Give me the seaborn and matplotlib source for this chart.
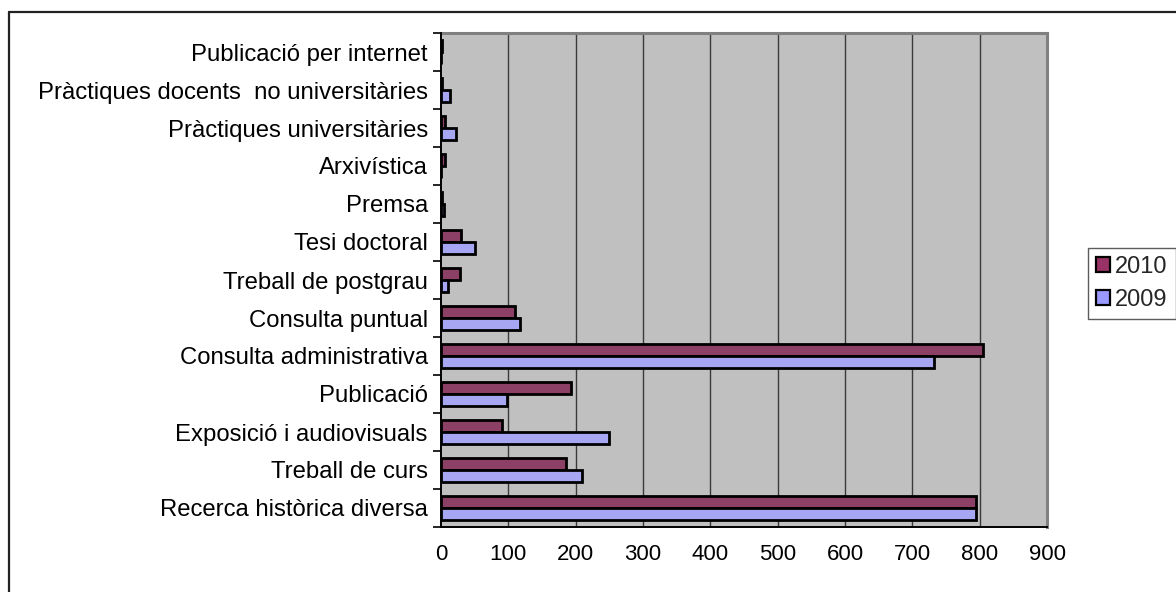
import matplotlib
matplotlib.use("Agg")
import matplotlib.pyplot as plt
from matplotlib.lines import Line2D
from matplotlib.patches import Patch
import seaborn as sns
import pandas as pd
import numpy as np

categories = [
    "Publicació per internet",
    "Pràctiques docents  no universitàries",
    "Pràctiques universitàries",
    "Arxivística",
    "Premsa",
    "Tesi doctoral",
    "Treball de postgrau",
    "Consulta puntual",
    "Consulta administrativa",
    "Publicació",
    "Exposició i audiovisuals",
    "Treball de curs",
    "Recerca històrica diversa",
]
values_2010 = [2, 1, 6, 6, 1, 30, 28, 110, 805, 193, 91, 186, 795]
values_2009 = [0, 14, 23, 0, 4, 50, 10, 118, 732, 98, 250, 210, 795]
years = ["2010", "2009"]
colors = {"2010": "#993366", "2009": "#9999FF"}
x_ticks = list(range(0, 1000, 100))

df = pd.DataFrame({
    "categoria": categories * 2,
    "any": ["2010"] * len(categories) + ["2009"] * len(categories),
    "valor": values_2010 + values_2009,
})

sns.set_theme(style="white")
plt.rcParams["font.family"] = ["Liberation Sans", "DejaVu Sans"]

W, H = 1176, 592
fig = plt.figure(figsize=(W / 100, H / 100), dpi=100)
fig.patch.set_facecolor("white")
ax = fig.add_axes([441 / W, 1 - 527 / H, (1047 - 441) / W, (527 - 33) / H])
ax.set_facecolor("#C0C0C0")

sns.barplot(data=df, x="valor", y="categoria", hue="any", order=categories,
            hue_order=years, palette=colors, orient="h", width=0.62,
            edgecolor="black", linewidth=2.0, errorbar=None, ax=ax,
            legend=False, zorder=3)

ax.set_xlim(0, 900)
ax.set_ylim(len(categories) - 0.5, -0.5)
ax.set_xticks(x_ticks)
ax.set_xticklabels([str(t) for t in x_ticks], fontsize=16)
ax.set_yticks(range(len(categories)))
ax.set_yticklabels(categories, fontsize=17.2)
ax.set_yticks(np.arange(-0.5, len(categories), 1.0), minor=True)
ax.tick_params(axis="y", which="major", length=0, pad=9.5, colors="black")
ax.tick_params(axis="y", which="minor", length=6, width=1.2, color="black", direction="out", left=True)
ax.tick_params(axis="x", which="major", length=6, width=1.2, color="black", direction="inout", pad=9, colors="black")
ax.set_xlabel("")
ax.set_ylabel("")

for t in x_ticks[1:-1]:
    ax.axvline(t, color="#3a3a3a", lw=1.0, zorder=1)

for side in ["top", "right"]:
    ax.spines[side].set_color("#808080")
    ax.spines[side].set_linewidth(2.2)
for side in ["left", "bottom"]:
    ax.spines[side].set_color("black")
    ax.spines[side].set_linewidth(1.4)
    ax.spines[side].set_zorder(5)

# outer chart border
fig.add_artist(Line2D([9 / W, 9 / W], [0, 1 - 12 / H], color="#222222", lw=1.6, transform=fig.transFigure))
fig.add_artist(Line2D([9 / W, 1], [1 - 12 / H, 1 - 12 / H], color="#222222", lw=1.6, transform=fig.transFigure))

handles = [Patch(facecolor=colors[y], edgecolor="black", linewidth=1.6) for y in years]
leg = fig.legend(handles, years, loc="lower left", bbox_to_anchor=(1088 / W, 1 - 319 / H),
                 frameon=True, fancybox=False, shadow=False, fontsize=17,
                 handlelength=0.6, handleheight=0.6, handletextpad=0.2,
                 borderpad=0.35, labelspacing=0.45, borderaxespad=0)
leg.get_frame().set_edgecolor("#333333")
leg.get_frame().set_linewidth(1.0)

fig.savefig("out.png", dpi=100)
